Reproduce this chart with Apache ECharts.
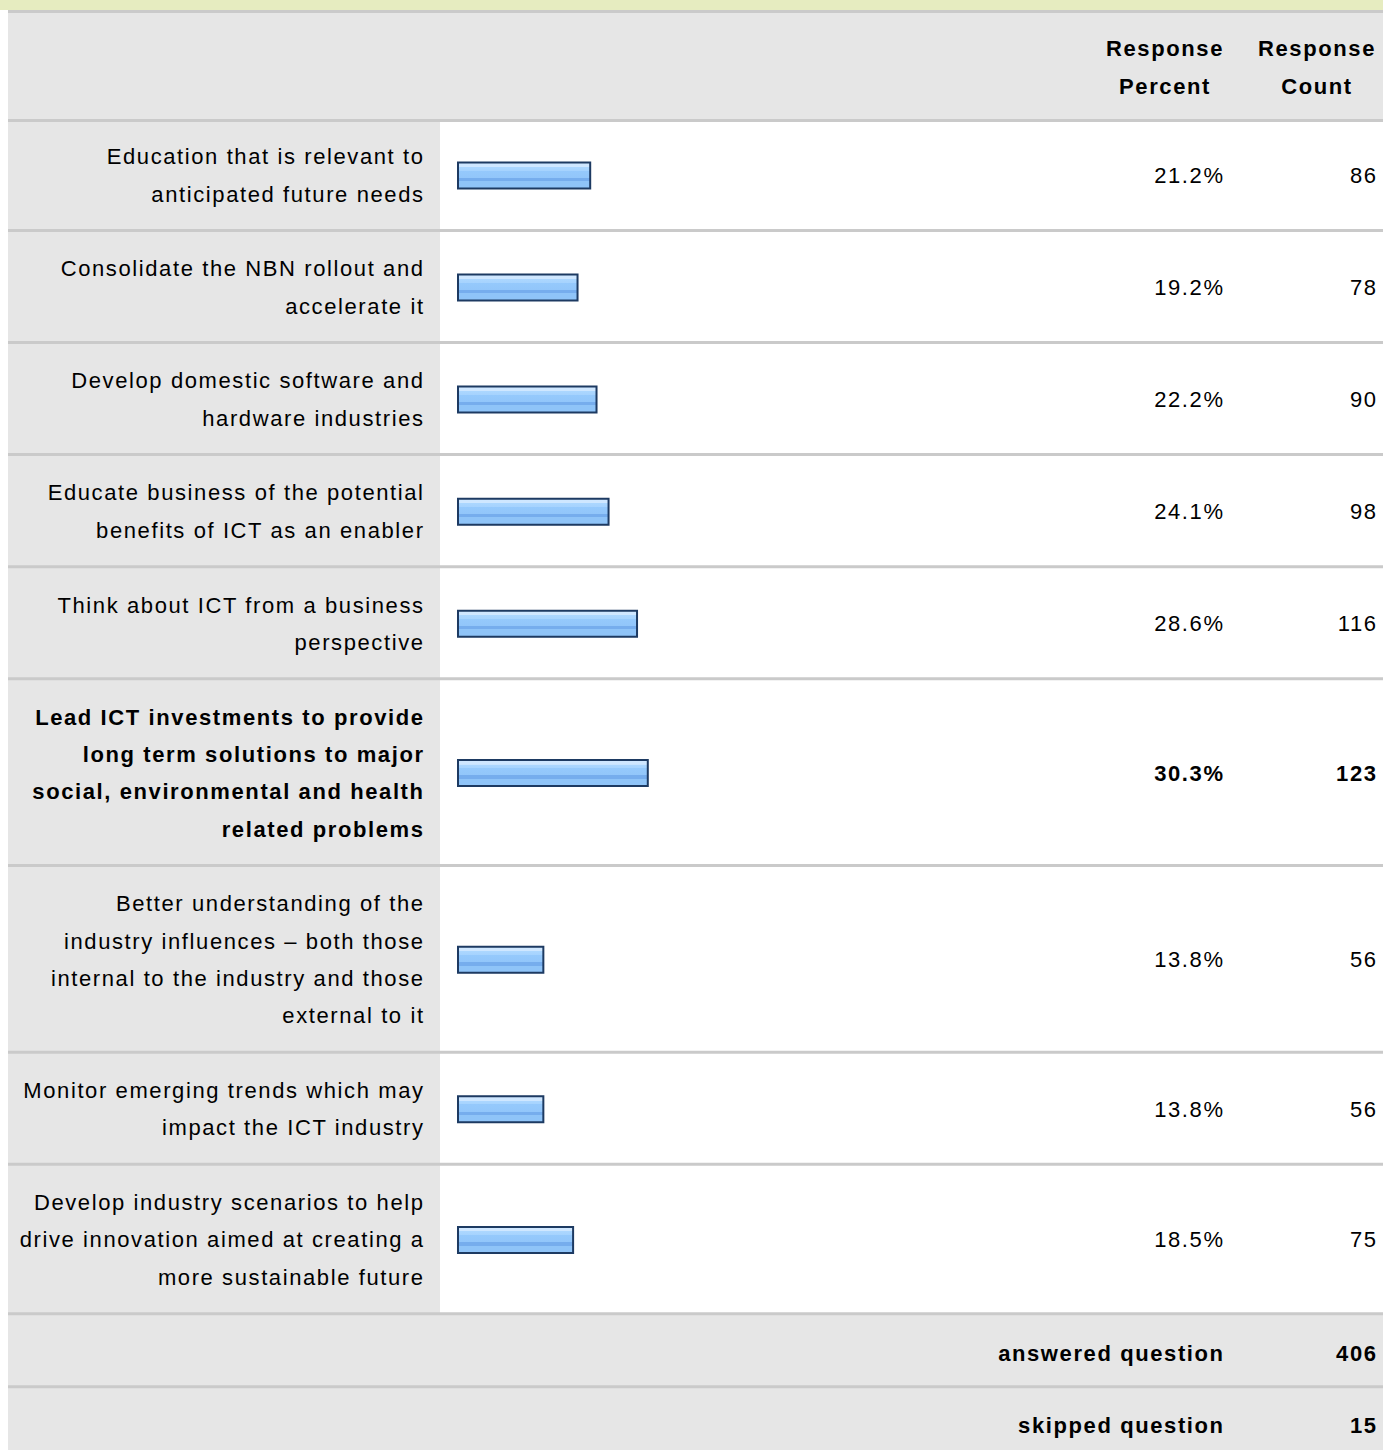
<!DOCTYPE html>
<html>
<head>
<meta charset="utf-8">
<script src="https://cdn.jsdelivr.net/npm/echarts@6/dist/echarts.min.js"></script>
<style>
  html, body { margin: 0; padding: 0; background: #fff; }
  #chart { width: 1383px; height: 1450px; }
  /* the survey table text is set quite loose */
  #chart svg text { letter-spacing: 1.6px; }
</style>
</head>
<body>
<div id="chart"></div>
<script>
// answer options, line breaks as shown in the survey table
const answerLabels = [
  'Education that is relevant to\nanticipated future needs',
  'Consolidate the NBN rollout and\naccelerate it',
  'Develop domestic software and\nhardware industries',
  'Educate business of the potential\nbenefits of ICT as an enabler',
  'Think about ICT from a business\nperspective',
  'Lead ICT investments to provide\nlong term solutions to major\nsocial, environmental and health\nrelated problems',
  'Better understanding of the\nindustry influences \u2013 both those\ninternal to the industry and those\nexternal to it',
  'Monitor emerging trends which may\nimpact the ICT industry',
  'Develop industry scenarios to help\ndrive innovation aimed at creating a\nmore sustainable future'
]
const responsePercent = [21.2, 19.2, 22.2, 24.1, 28.6, 30.3, 13.8, 13.8, 18.5]
const responseCount = [86, 78, 90, 98, 116, 123, 56, 56, 75]
const answeredQuestion = 406
const skippedQuestion = 15

const FONT = '"Liberation Sans", Arial, Helvetica, sans-serif'
const FS = 22
const LS = 1.6
const LINE_H = 37.35
const GREY = '#e6e6e6'
const SEP = '#cacaca'
const W = 1383

const maxCount = Math.max.apply(null, responseCount)

// row layout: each row is one blank line taller than its label
let y = 118.45
const rows = answerLabels.map(function (lab) {
  const n = lab.split('\n').length
  const h = LINE_H * (n + 1)
  const r = { top: y, height: h }
  y += h
  return r
})
const footerTop = y

const barFill = new echarts.graphic.LinearGradient(0, 0, 0, 1, [
  { offset: 0, color: '#cfe7ff' },
  { offset: 0.17, color: '#cfe7ff' },
  { offset: 0.171, color: '#acd7ff' },
  { offset: 0.31, color: '#a6d3fe' },
  { offset: 0.311, color: '#95c9fc' },
  { offset: 0.59, color: '#92c6fa' },
  { offset: 0.591, color: '#76aded' },
  { offset: 0.72, color: '#76aded' },
  { offset: 0.721, color: '#8fc4f8' },
  { offset: 1, color: '#8fc4f8' }
])

const grid = []
const xAxis = []
const yAxis = []
const series = []

rows.forEach(function (r, i) {
  const fw = responseCount[i] === maxCount ? 'bold' : 'normal'
  grid.push({ left: 457, width: 633, top: r.top + 1, height: r.height })
  xAxis.push({ type: 'value', gridIndex: i, min: 0, max: 100, show: false })
  yAxis.push({
    type: 'category',
    gridIndex: i,
    data: [answerLabels[i]],
    axisLine: { show: false },
    axisTick: { show: false },
    splitLine: { show: false },
    axisLabel: {
      margin: 34 - LS,
      align: 'right',
      color: '#000',
      fontFamily: FONT,
      fontSize: FS,
      fontWeight: fw,
      lineHeight: LINE_H
    }
  })
  yAxis.push({
    type: 'category',
    gridIndex: i,
    position: 'right',
    data: [answerLabels[i]],
    axisLine: { show: false },
    axisTick: { show: false },
    splitLine: { show: false },
    axisLabel: {
      margin: 0,
      align: 'left',
      formatter: function () {
        return '{p|' + responsePercent[i].toFixed(1) + '%}{c|' + responseCount[i] + '}'
      },
      rich: {
        p: { width: 133 + LS, align: 'right', fontSize: FS, fontFamily: FONT, color: '#000', fontWeight: fw },
        c: { width: 153, align: 'right', fontSize: FS, fontFamily: FONT, color: '#000', fontWeight: fw }
      }
    }
  })
  series.push({
    type: 'bar',
    xAxisIndex: i,
    yAxisIndex: i * 2,
    barWidth: 28,
    silent: true,
    itemStyle: { color: barFill, borderColor: '#1d3a62', borderWidth: 2 },
    data: [responsePercent[i]]
  })
})

// background panels and separator lines
const graphics = [
  { type: 'rect', shape: { x: 0, y: 0, width: W, height: 10 }, style: { fill: '#e6ecc0' }, z: -10 },
  { type: 'rect', shape: { x: 8, y: 10, width: W - 8, height: 110 }, style: { fill: GREY }, z: -10 },
  { type: 'rect', shape: { x: 8, y: 120, width: 432, height: footerTop - 120 }, style: { fill: GREY }, z: -10 },
  { type: 'rect', shape: { x: 8, y: footerTop, width: W - 8, height: 1450 - footerTop }, style: { fill: GREY }, z: -10 }
]
const sepYs = [10, 119]
rows.forEach(function (r) { sepYs.push(r.top + r.height - 1.5) })
sepYs.push(footerTop + 71.5)
sepYs.forEach(function (sy) {
  graphics.push({ type: 'rect', shape: { x: 8, y: sy, width: W - 8, height: 3 }, style: { fill: SEP }, z: -5 })
})

function txt (x, yy, text, align) {
  return {
    type: 'text', x: x, y: yy, z: 5,
    style: {
      text: text, fill: '#000', font: 'bold ' + FS + 'px ' + FONT,
      align: align, verticalAlign: 'middle', lineHeight: 38
    }
  }
}
graphics.push(txt(1165, 67, 'Response\nPercent', 'center'))
graphics.push(txt(1317, 67, 'Response\nCount', 'center'))
const ansY = footerTop + 39.5
const skipY = footerTop + 111.5
graphics.push(txt(1223 + LS, ansY, 'answered question', 'right'))
graphics.push(txt(1376 + LS, ansY, String(answeredQuestion), 'right'))
graphics.push(txt(1223 + LS, skipY, 'skipped question', 'right'))
graphics.push(txt(1376 + LS, skipY, String(skippedQuestion), 'right'))

const chart = echarts.init(document.getElementById('chart'), null, { renderer: 'svg' })
chart.setOption({
  animation: false,
  backgroundColor: '#fff',
  graphic: graphics,
  grid: grid,
  xAxis: xAxis,
  yAxis: yAxis,
  series: series
})
</script>
</body>
</html>
